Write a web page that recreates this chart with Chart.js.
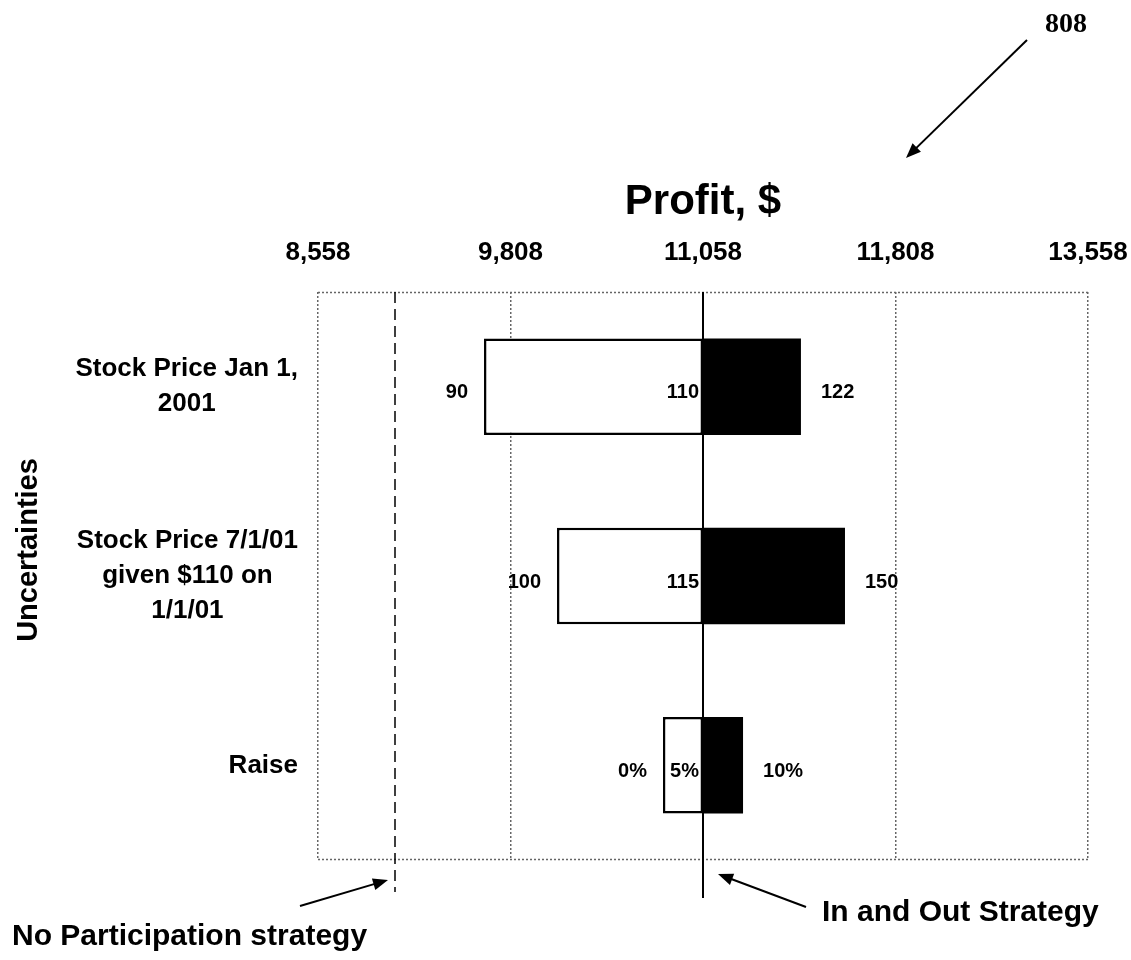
<!DOCTYPE html>
<html>
<head>
<meta charset="utf-8">
<script src="https://cdn.jsdelivr.net/npm/chart.js@4.4.1/dist/chart.umd.min.js"></script>
<style>
    body { margin: 0; background: #fff; }
    #wrap { width: 1131px; height: 960px; }
</style>
</head>
<body>
<div id="wrap"><canvas id="tornado" width="1131" height="960"></canvas></div>
<script>
// uncertainties (rows, top to bottom)
const categories = [
    ["Stock Price Jan 1,", "2001"],
    ["Stock Price 7/1/01", "given $110 on", "1/1/01"],
    ["Raise"],
];
// profit at low / high setting of each uncertainty
const lowProfit = [9636, 10110, 10798];
const highProfit = [11694, 11980, 11318];
const baseProfit = 11058;
const noParticipationProfit = 9058;

const lowLabels = ["90", "100", "0%"];
const baseLabels = ["110", "115", "5%"];
const highLabels = ["122", "150", "10%"];

const tickValues = [8558, 9808, 11058, 12308, 13558];
const tickLabels = ["8,558", "9,808", "11,058", "11,808", "13,558"];

const FONT = "'Liberation Sans', Arial, Helvetica, sans-serif";

function arrow(ctx, x1, y1, x2, y2) {
    const ang = Math.atan2(y2 - y1, x2 - x1);
    const len = 15, wid = 6;
    ctx.save();
    ctx.strokeStyle = "#000";
    ctx.fillStyle = "#000";
    ctx.lineWidth = 2;
    ctx.beginPath();
    ctx.moveTo(x1, y1);
    ctx.lineTo(x2 - Math.cos(ang) * len * 0.8, y2 - Math.sin(ang) * len * 0.8);
    ctx.stroke();
    ctx.beginPath();
    ctx.moveTo(x2, y2);
    ctx.lineTo(x2 - Math.cos(ang) * len - Math.sin(ang) * wid, y2 - Math.sin(ang) * len + Math.cos(ang) * wid);
    ctx.lineTo(x2 - Math.cos(ang) * len + Math.sin(ang) * wid, y2 - Math.sin(ang) * len - Math.cos(ang) * wid);
    ctx.closePath();
    ctx.fill();
    ctx.restore();
}

const tornadoDecor = {
    id: "tornadoDecor",
    afterDatasetsDraw(chart) {
        const ctx = chart.ctx;
        const area = chart.chartArea;
        const xs = chart.scales.x;
        const ys = chart.scales.y;

        // dotted frame top / bottom
        ctx.save();
        ctx.strokeStyle = "#666";
        ctx.lineWidth = 1.5;
        ctx.setLineDash([2, 2]);
        ctx.beginPath();
        ctx.moveTo(area.left, area.top + 0.5);
        ctx.lineTo(area.right, area.top + 0.5);
        ctx.moveTo(area.left, area.bottom - 0.5);
        ctx.lineTo(area.right, area.bottom - 0.5);
        ctx.stroke();
        ctx.restore();

        // base case line (In and Out)
        const bx = xs.getPixelForValue(baseProfit);
        ctx.save();
        ctx.strokeStyle = "#000";
        ctx.lineWidth = 2;
        ctx.beginPath();
        ctx.moveTo(bx, area.top);
        ctx.lineTo(bx, area.bottom + 38);
        ctx.stroke();

        // no participation line
        const nx = xs.getPixelForValue(noParticipationProfit);
        ctx.lineWidth = 1.5;
        ctx.setLineDash([11, 6]);
        ctx.beginPath();
        ctx.moveTo(nx, area.top);
        ctx.lineTo(nx, area.bottom + 32);
        ctx.stroke();
        ctx.restore();

        // value labels
        ctx.save();
        ctx.fillStyle = "#000";
        ctx.font = "bold 20px " + FONT;
        ctx.textBaseline = "middle";
        categories.forEach((c, i) => {
            const y = ys.getPixelForValue(i) + 6;
            ctx.textAlign = "right";
            ctx.fillText(lowLabels[i], xs.getPixelForValue(lowProfit[i]) - 16, y);
            ctx.fillText(baseLabels[i], bx - 4, y);
            ctx.textAlign = "left";
            ctx.fillText(highLabels[i], xs.getPixelForValue(highProfit[i]) + 20, y);
        });

        // category labels
        ctx.font = "bold 26px " + FONT;
        const lh = 35;
        const right = area.left - 20;
        categories.forEach((lines, i) => {
            const cy = ys.getPixelForValue(i);
            const w = Math.max(...lines.map((l) => ctx.measureText(l).width));
            ctx.textAlign = "center";
            lines.forEach((l, k) => {
                ctx.fillText(l, right - w / 2, cy - (lines.length - 1) * lh / 2 + k * lh);
            });
        });

        // axis title on the left
        ctx.save();
        ctx.translate(29, 550);
        ctx.rotate(-Math.PI / 2);
        ctx.font = "bold 29px " + FONT;
        ctx.textAlign = "center";
        ctx.fillText("Uncertainties", 0, 0);
        ctx.restore();

        // strategy notes
        ctx.font = "bold 30px " + FONT;
        ctx.textAlign = "left";
        ctx.fillText("No Participation strategy", 12, 937);
        ctx.fillText("In and Out Strategy", 822, 913);
        arrow(ctx, 300, 906, nx - 7, area.bottom + 20);
        arrow(ctx, 806, 907, bx + 15, area.bottom + 14);

        // figure reference
        ctx.font = "bold 28px 'Liberation Serif', 'Times New Roman', serif";
        ctx.textAlign = "center";
        ctx.fillText("808", 1066, 25);
        arrow(ctx, 1027, 40, 906, 158);
        ctx.restore();
    },
};

new Chart(document.getElementById("tornado"), {
    type: "bar",
    data: {
        labels: categories,
        datasets: [
            {
                label: "low",
                data: lowProfit.map((v) => [v, baseProfit]),
                backgroundColor: "#fff",
                borderColor: "#000",
                borderWidth: 2.5,
                borderSkipped: false,
                grouped: false,
                barPercentage: 0.51,
                categoryPercentage: 1,
            },
            {
                label: "high",
                data: highProfit.map((v) => [baseProfit, v]),
                backgroundColor: "#000",
                borderColor: "#000",
                borderWidth: 0,
                grouped: false,
                barPercentage: 0.51,
                categoryPercentage: 1,
            },
        ],
    },
    options: {
        indexAxis: "y",
        responsive: false,
        animation: false,
        layout: { padding: { top: 177, right: 43, bottom: 100, left: 0 } },
        plugins: {
            legend: { display: false },
            tooltip: { enabled: false },
        },
        scales: {
            x: {
                position: "top",
                min: tickValues[0],
                max: tickValues[tickValues.length - 1],
                afterBuildTicks: (s) => {
                    s.ticks = tickValues.map((v) => ({ value: v }));
                },
                afterFit: (s) => {
                    s.height = 292 - 177;
                    s.paddingLeft = 0;
                    s.paddingRight = 0;
                },
                ticks: {
                    color: "#000",
                    padding: 24,
                    maxRotation: 0,
                    autoSkip: false,
                    font: { family: FONT, size: 26, weight: "bold" },
                    callback: (v, i) => tickLabels[i],
                },
                grid: {
                    color: "#666",
                    lineWidth: 1.5,
                    drawTicks: false,
                },
                border: { display: false, dash: [2, 2] },
                title: {
                    display: true,
                    text: "Profit, $",
                    color: "#000",
                    font: { family: FONT, size: 42, weight: "bold" },
                    padding: { top: 0, bottom: 0 },
                },
            },
            y: {
                afterFit: (s) => {
                    s.width = 318;
                },
                ticks: { display: false },
                grid: { display: false },
                border: { display: false },
            },
        },
    },
    plugins: [tornadoDecor],
});
</script>
</body>
</html>
